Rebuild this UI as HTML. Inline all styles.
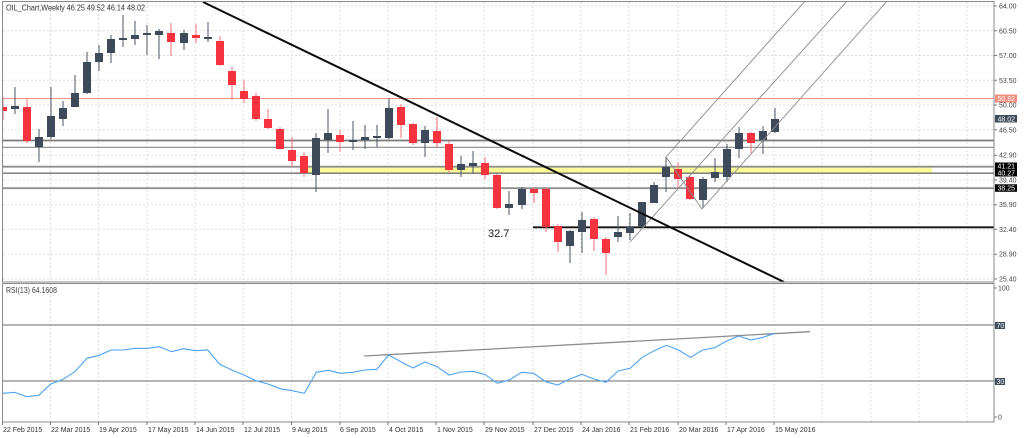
<!DOCTYPE html>
<html><head><meta charset="utf-8">
<style>
html,body{margin:0;padding:0;background:#fff;}
svg{display:block;}
text{font-family:"Liberation Sans",sans-serif;}
</style></head>
<body>
<svg width="1024" height="438" viewBox="0 0 1024 438" xmlns="http://www.w3.org/2000/svg">
<defs>
<clipPath id="pc"><rect x="2.5" y="2" width="991.5" height="280"/></clipPath>
<clipPath id="rc"><rect x="2.5" y="284" width="991.5" height="138"/></clipPath>
</defs>
<rect width="1024" height="438" fill="#fff"/>

<!-- grid -->
<g stroke="#dedede" stroke-width="1" stroke-dasharray="2,2" fill="none">
<path d="M3 6H994M3 30.8H994M3 55.5H994M3 80.3H994M3 105H994M3 129.8H994M3 155.2H994M3 180H994M3 204.7H994M3 229.4H994M3 254.2H994M3 279H994"/>
<path d="M50.5 2V282M98.5 2V282M147 2V282M195 2V282M243 2V282M291.5 2V282M340 2V282M388 2V282M436 2V282M484 2V282M533 2V282M581 2V282M629 2V282M678 2V282M726 2V282M774 2V282M822 2V282M871 2V282M919 2V282M967 2V282"/>
<path d="M50.5 284V422M98.5 284V422M147 284V422M195 284V422M243 284V422M291.5 284V422M340 284V422M388 284V422M436 284V422M484 284V422M533 284V422M581 284V422M629 284V422M678 284V422M726 284V422M774 284V422M822 284V422M871 284V422M919 284V422M967 284V422"/>
</g>

<g clip-path="url(#pc)">
<!-- yellow band -->
<rect x="308" y="167" width="624" height="6" fill="#fbfb9a"/>
<!-- horizontal levels -->
<line x1="2" y1="98.5" x2="994" y2="98.5" stroke="#f5917f" stroke-width="1"/>
<line x1="2" y1="140.5" x2="994" y2="140.5" stroke="#7a7a7a" stroke-width="1.8"/>
<line x1="2" y1="147.3" x2="994" y2="147.3" stroke="#8a8a8a" stroke-width="1.2"/>
<line x1="2" y1="166.7" x2="994" y2="166.7" stroke="#8f8f8f" stroke-width="1.8"/>
<line x1="2" y1="173.2" x2="994" y2="173.2" stroke="#707070" stroke-width="1.4"/>
<line x1="2" y1="188.2" x2="994" y2="188.2" stroke="#8f8f8f" stroke-width="1.8"/>
<line x1="533" y1="227.3" x2="994" y2="227.3" stroke="#111" stroke-width="1.8"/>

<!-- candles -->
<g id="cd">
<rect x="2.5" y="97" width="1" height="23" fill="#f5707b"/><rect x="-1" y="107" width="8" height="4" fill="#f4333f"/>
<rect x="14.5" y="87" width="1" height="27" fill="#4b5666"/><rect x="11" y="106" width="8" height="3" fill="#3e4a5a"/>
<rect x="26.5" y="99" width="1" height="44" fill="#f5707b"/><rect x="23" y="107" width="8" height="34" fill="#f4333f"/>
<rect x="38.5" y="129" width="1" height="33" fill="#4b5666"/><rect x="35" y="137" width="8" height="10" fill="#3e4a5a"/>
<rect x="50.5" y="87" width="1" height="52" fill="#4b5666"/><rect x="47" y="116" width="8" height="21" fill="#3e4a5a"/>
<rect x="62.5" y="101" width="1" height="25" fill="#4b5666"/><rect x="59" y="108" width="8" height="11" fill="#3e4a5a"/>
<rect x="74.5" y="75" width="1" height="32" fill="#4b5666"/><rect x="71" y="93" width="8" height="14" fill="#3e4a5a"/>
<rect x="86.5" y="52" width="1" height="42" fill="#4b5666"/><rect x="83" y="62" width="8" height="31" fill="#3e4a5a"/>
<rect x="98.5" y="45" width="1" height="26" fill="#4b5666"/><rect x="95" y="53" width="8" height="9" fill="#3e4a5a"/>
<rect x="110.5" y="35" width="1" height="28" fill="#4b5666"/><rect x="107" y="39" width="8" height="14" fill="#3e4a5a"/>
<rect x="122.5" y="15" width="1" height="32" fill="#4b5666"/><rect x="119" y="38" width="8" height="2" fill="#3e4a5a"/>
<rect x="134.5" y="21" width="1" height="24" fill="#4b5666"/><rect x="131" y="35" width="8" height="4" fill="#3e4a5a"/>
<rect x="146.5" y="25" width="1" height="30" fill="#4b5666"/><rect x="143" y="33" width="8" height="2" fill="#3e4a5a"/>
<rect x="158.5" y="29" width="1" height="30" fill="#4b5666"/><rect x="155" y="31" width="8" height="4" fill="#3e4a5a"/>
<rect x="170.5" y="23" width="1" height="33" fill="#f5707b"/><rect x="167" y="33" width="8" height="9" fill="#f4333f"/>
<rect x="183.5" y="30" width="1" height="20" fill="#4b5666"/><rect x="180" y="33" width="8" height="10" fill="#3e4a5a"/>
<rect x="195.5" y="24" width="1" height="19" fill="#f5707b"/><rect x="192" y="35" width="8" height="3" fill="#f4333f"/>
<rect x="207.5" y="22" width="1" height="20" fill="#4b5666"/><rect x="204" y="37" width="8" height="2" fill="#3e4a5a"/>
<rect x="219.5" y="36" width="1" height="30" fill="#f5707b"/><rect x="216" y="41" width="8" height="24" fill="#f4333f"/>
<rect x="231.5" y="67" width="1" height="33" fill="#f5707b"/><rect x="228" y="71" width="8" height="14" fill="#f4333f"/>
<rect x="243.5" y="80" width="1" height="23" fill="#f5707b"/><rect x="240" y="91" width="8" height="8" fill="#f4333f"/>
<rect x="255.5" y="93" width="1" height="28" fill="#f5707b"/><rect x="252" y="96" width="8" height="23" fill="#f4333f"/>
<rect x="267.5" y="109" width="1" height="20" fill="#f5707b"/><rect x="264" y="119" width="8" height="9" fill="#f4333f"/>
<rect x="279.5" y="127" width="1" height="22" fill="#f5707b"/><rect x="276" y="129" width="8" height="20" fill="#f4333f"/>
<rect x="291.5" y="137" width="1" height="30" fill="#f5707b"/><rect x="288" y="150" width="8" height="11" fill="#f4333f"/>
<rect x="303.5" y="152" width="1" height="25" fill="#f5707b"/><rect x="300" y="156" width="8" height="17" fill="#f4333f"/>
<rect x="315.5" y="133" width="1" height="59" fill="#4b5666"/><rect x="312" y="138" width="8" height="37" fill="#3e4a5a"/>
<rect x="327.5" y="109" width="1" height="44" fill="#4b5666"/><rect x="324" y="133" width="8" height="7" fill="#3e4a5a"/>
<rect x="339.5" y="130" width="1" height="22" fill="#f5707b"/><rect x="336" y="135" width="8" height="7" fill="#f4333f"/>
<rect x="352.5" y="121" width="1" height="29" fill="#4b5666"/><rect x="349" y="140" width="8" height="2" fill="#3e4a5a"/>
<rect x="364.5" y="125" width="1" height="24" fill="#4b5666"/><rect x="361" y="137" width="8" height="3" fill="#3e4a5a"/>
<rect x="376.5" y="125" width="1" height="22" fill="#4b5666"/><rect x="373" y="136" width="8" height="2" fill="#3e4a5a"/>
<rect x="388.5" y="98" width="1" height="41" fill="#4b5666"/><rect x="385" y="108" width="8" height="30" fill="#3e4a5a"/>
<rect x="400.5" y="104" width="1" height="34" fill="#f5707b"/><rect x="397" y="107" width="8" height="18" fill="#f4333f"/>
<rect x="412.5" y="123" width="1" height="22" fill="#f5707b"/><rect x="409" y="124" width="8" height="19" fill="#f4333f"/>
<rect x="424.5" y="126" width="1" height="31" fill="#4b5666"/><rect x="421" y="130" width="8" height="13" fill="#3e4a5a"/>
<rect x="436.5" y="117" width="1" height="30" fill="#f5707b"/><rect x="433" y="131" width="8" height="12" fill="#f4333f"/>
<rect x="448.5" y="141" width="1" height="32" fill="#f5707b"/><rect x="445" y="144" width="8" height="26" fill="#f4333f"/>
<rect x="460.5" y="156" width="1" height="21" fill="#4b5666"/><rect x="457" y="164" width="8" height="6" fill="#3e4a5a"/>
<rect x="472.5" y="151" width="1" height="22" fill="#4b5666"/><rect x="469" y="163" width="8" height="3" fill="#3e4a5a"/>
<rect x="484.5" y="157" width="1" height="22" fill="#f5707b"/><rect x="481" y="163" width="8" height="12" fill="#f4333f"/>
<rect x="496.5" y="174" width="1" height="35" fill="#f5707b"/><rect x="493" y="175" width="8" height="33" fill="#f4333f"/>
<rect x="508.5" y="191" width="1" height="24" fill="#4b5666"/><rect x="505" y="204" width="8" height="4" fill="#3e4a5a"/>
<rect x="521.5" y="187" width="1" height="22" fill="#4b5666"/><rect x="518" y="189" width="8" height="16" fill="#3e4a5a"/>
<rect x="533.5" y="187" width="1" height="16" fill="#f5707b"/><rect x="530" y="189" width="8" height="4" fill="#f4333f"/>
<rect x="545.5" y="187" width="1" height="45" fill="#f5707b"/><rect x="542" y="189" width="8" height="38" fill="#f4333f"/>
<rect x="557.5" y="224" width="1" height="28" fill="#f5707b"/><rect x="554" y="226" width="8" height="16" fill="#f4333f"/>
<rect x="569.5" y="230" width="1" height="33" fill="#4b5666"/><rect x="566" y="231" width="8" height="15" fill="#3e4a5a"/>
<rect x="581.5" y="212" width="1" height="41" fill="#4b5666"/><rect x="578" y="220" width="8" height="12" fill="#3e4a5a"/>
<rect x="593.5" y="217" width="1" height="34" fill="#f5707b"/><rect x="590" y="219" width="8" height="20" fill="#f4333f"/>
<rect x="605.5" y="237" width="1" height="38" fill="#f5707b"/><rect x="602" y="239" width="8" height="14" fill="#f4333f"/>
<rect x="617.5" y="216" width="1" height="26" fill="#4b5666"/><rect x="614" y="232" width="8" height="5" fill="#3e4a5a"/>
<rect x="629.5" y="213" width="1" height="27" fill="#4b5666"/><rect x="626" y="227" width="8" height="6" fill="#3e4a5a"/>
<rect x="641.5" y="202" width="1" height="26" fill="#4b5666"/><rect x="638" y="202" width="8" height="25" fill="#3e4a5a"/>
<rect x="653.5" y="182" width="1" height="21" fill="#4b5666"/><rect x="650" y="185" width="8" height="18" fill="#3e4a5a"/>
<rect x="665.5" y="157" width="1" height="35" fill="#4b5666"/><rect x="662" y="167" width="8" height="10" fill="#3e4a5a"/>
<rect x="677.5" y="162" width="1" height="26" fill="#f5707b"/><rect x="674" y="169" width="8" height="10" fill="#f4333f"/>
<rect x="689.5" y="175" width="1" height="25" fill="#f5707b"/><rect x="686" y="177" width="8" height="22" fill="#f4333f"/>
<rect x="702.5" y="177" width="1" height="31" fill="#4b5666"/><rect x="699" y="179" width="8" height="21" fill="#3e4a5a"/>
<rect x="714.5" y="158" width="1" height="24" fill="#4b5666"/><rect x="711" y="172" width="8" height="6" fill="#3e4a5a"/>
<rect x="726.5" y="144" width="1" height="38" fill="#4b5666"/><rect x="723" y="149" width="8" height="28" fill="#3e4a5a"/>
<rect x="738.5" y="127" width="1" height="31" fill="#4b5666"/><rect x="735" y="133" width="8" height="16" fill="#3e4a5a"/>
<rect x="750.5" y="132" width="1" height="21" fill="#f5707b"/><rect x="747" y="133" width="8" height="10" fill="#f4333f"/>
<rect x="762.5" y="126" width="1" height="28" fill="#4b5666"/><rect x="759" y="131" width="8" height="9" fill="#3e4a5a"/>
<rect x="774.5" y="108" width="1" height="25" fill="#4b5666"/><rect x="771" y="119" width="8" height="13" fill="#3e4a5a"/>
</g>

<!-- pitchfork -->
<g stroke="#8c8c8c" stroke-width="0.9" fill="none">
<line x1="630" y1="242" x2="848" y2="0"/>
<line x1="666" y1="157" x2="806" y2="0"/>
<line x1="702" y1="209" x2="888" y2="0"/>
<line x1="666" y1="157" x2="702" y2="209"/>
</g>
<!-- trend line -->
<line x1="203" y1="2" x2="784" y2="282" stroke="#0a0a0a" stroke-width="2"/>
</g>

<text x="488" y="237" font-size="11" fill="#222">32.7</text>

<!-- header -->
<text x="6" y="10.5" font-size="8" fill="#333" textLength="139" lengthAdjust="spacingAndGlyphs">OIL_Chart,Weekly  46.25 49.52 46.14 48.02</text>

<!-- RSI panel -->
<g clip-path="url(#rc)">
<line x1="2" y1="325" x2="994" y2="325" stroke="#6a6a6a" stroke-width="1"/>
<line x1="2" y1="381" x2="994" y2="381" stroke="#6a6a6a" stroke-width="1"/>
<line x1="364" y1="356" x2="810" y2="331.7" stroke="#8c8c8c" stroke-width="1.3"/>
<polyline fill="none" stroke="#4ea3f0" stroke-width="1.1" points="2.5,393.3 14.6,392.3 26.6,396.7 38.7,395.3 50.8,384 62.9,379.3 74.9,371.7 87,358.3 99.1,355.3 111.1,350 123.2,350 135.3,348.3 147.3,348.3 159.4,346.7 171.5,351.7 183.6,348.7 195.6,350.7 207.7,350 219.8,364.3 231.8,370 243.9,375 256,380.7 268,384 280.1,388.7 292.2,390.7 304.3,393.3 316.3,372.3 328.4,370.3 340.5,373.3 352.5,372.3 364.6,370 376.7,369.3 388.7,355 400.8,361.7 412.9,368 425,362 437,366.7 449.1,375 461.2,372 473.2,371.3 485.3,374.7 497.4,383.3 509.4,380 521.5,372.3 533.6,373.3 545.7,381.7 557.7,385 569.8,379 581.9,374.3 593.9,379 606,382.3 618.1,371 630.1,368.3 642.2,357.3 654.3,350.7 666.4,345.3 678.4,350 690.5,357.3 702.6,350 714.6,347.7 726.7,341 738.8,336 750.8,340 762.9,337.3 775,333.3"/>
</g>
<text x="6" y="293" font-size="8" fill="#444" textLength="51" lengthAdjust="spacingAndGlyphs">RSI(13) 64.1608</text>

<!-- frames -->
<g fill="none" stroke="#8a8a8a" stroke-width="1">
<rect x="2.5" y="1.5" width="991.5" height="280.5"/>
<rect x="2.5" y="283.5" width="991.5" height="138.5"/>
</g>

<!-- price axis ticks & labels -->
<g stroke="#777" stroke-width="1">
<path d="M994 6H997M994 30.8H997M994 55.5H997M994 80.3H997M994 105H997M994 129.8H997M994 155.2H997M994 180H997M994 204.7H997M994 229.4H997M994 254.2H997M994 279H997"/>
<path d="M994 288H997M994 325H997M994 381H997M994 417H997"/>
<path d="M2.5 422V425M50.5 422V425M98.5 422V425M147 422V425M195 422V425M243 422V425M291.5 422V425M340 422V425M388 422V425M436 422V425M484 422V425M533 422V425M581 422V425M629 422V425M678 422V425M726 422V425M774 422V425"/>
</g>
<g font-size="7" fill="#444">
<text x="999" y="8.5">64.00</text>
<text x="999" y="33.3">60.50</text>
<text x="999" y="58">57.00</text>
<text x="999" y="82.8">53.50</text>
<text x="999" y="107.5">50.00</text>
<text x="999" y="132.3">46.50</text>
<text x="999" y="157.7">42.90</text>
<text x="999" y="182.5">39.40</text>
<text x="999" y="207.2">35.90</text>
<text x="999" y="231.9">32.40</text>
<text x="999" y="256.7">28.90</text>
<text x="999" y="281.3">25.40</text>
<text x="998" y="290.5">100</text>
<text x="998" y="419.5">0</text>
</g>
<!-- label boxes -->
<rect x="995" y="94.5" width="22" height="8" fill="#f58d80"/>
<rect x="995" y="115" width="22" height="7.5" fill="#3e4a5a"/>
<rect x="995" y="162.5" width="22" height="7" fill="#000"/>
<rect x="995" y="169.5" width="22" height="7" fill="#000"/>
<rect x="995" y="184.3" width="22" height="7.5" fill="#000"/>
<rect x="995" y="322" width="10" height="7" fill="#3e4a5a"/>
<rect x="995" y="378" width="10" height="7" fill="#3e4a5a"/>
<g font-size="7" fill="#fff">
<text x="997.5" y="101">50.92</text>
<text x="997.5" y="121.3">48.02</text>
<text x="997.5" y="168.5">41.21</text>
<text x="997.5" y="175.5">40.27</text>
<text x="997.5" y="190.6">38.25</text>
<text x="996.5" y="328">70</text>
<text x="996.5" y="384">30</text>
</g>

<!-- x labels -->
<g font-size="7" fill="#333">
<text x="3" y="432">22 Feb 2015</text>
<text x="51" y="432">22 Mar 2015</text>
<text x="99" y="432">19 Apr 2015</text>
<text x="148" y="432">17 May 2015</text>
<text x="196" y="432">14 Jun 2015</text>
<text x="244" y="432">12 Jul 2015</text>
<text x="292" y="432">9 Aug 2015</text>
<text x="340" y="432">6 Sep 2015</text>
<text x="389" y="432">4 Oct 2015</text>
<text x="437" y="432">1 Nov 2015</text>
<text x="485" y="432">29 Nov 2015</text>
<text x="534" y="432">27 Dec 2015</text>
<text x="582" y="432">24 Jan 2016</text>
<text x="630" y="432">21 Feb 2016</text>
<text x="679" y="432">20 Mar 2016</text>
<text x="727" y="432">17 Apr 2016</text>
<text x="775" y="432">15 May 2016</text>
</g>
</svg>
</body></html>
